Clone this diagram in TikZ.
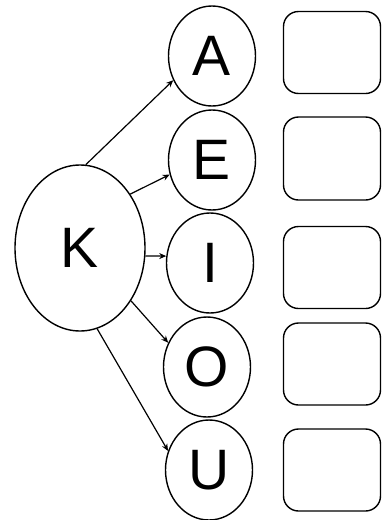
\documentclass[tikz,border=0pt]{standalone}
\usepackage{fontspec}
\setmainfont{Liberation Sans}
\usetikzlibrary{shapes.geometric,arrows.meta}
\begin{document}
\begin{tikzpicture}[x=1pt,y=-1pt,
  vowel/.style={draw,line width=1.4pt,ellipse,inner sep=0pt,minimum width=87pt,minimum height=100pt,font=\fontsize{57}{57}\selectfont},
  bigk/.style={draw,line width=1.4pt,ellipse,inner sep=0pt,minimum width=130pt,minimum height=166pt,font=\fontsize{57}{57}\selectfont},
  answer/.style={draw,line width=1.4pt,rounded corners=15pt,minimum width=97pt,minimum height=82pt},
  conn/.style={line width=1.2pt,-{Stealth[length=7pt,width=6pt]}}]
\useasboundingbox (0,0) rectangle (382,520);
\node[bigk] (K) at (80,248) {K};
\node[vowel] (A) at (212,56) {A};
\node[vowel] (E) at (212,160) {E};
\node[vowel] (I) at (210,263) {I};
\node[vowel] (O) at (207,367) {O};
\node[vowel] (U) at (209,470) {U};
\node[answer] (bA) at (332,52.5) {};
\node[answer, minimum height=83pt] (bE) at (332,158.5) {};
\node[answer] (bI) at (332,267.5) {};
\node[answer] (bO) at (332,364) {};
\node[answer] (bU) at (332,470) {};
\draw[conn] (K.86) -- (A.212);
\draw[conn] (K.47) -- (E.199);
\draw[conn] (K.-7) -- (I.171);
\draw[conn] (K.-46) -- (O.148);
\draw[conn] (K.-78) -- (U.155);
\end{tikzpicture}
\end{document}
